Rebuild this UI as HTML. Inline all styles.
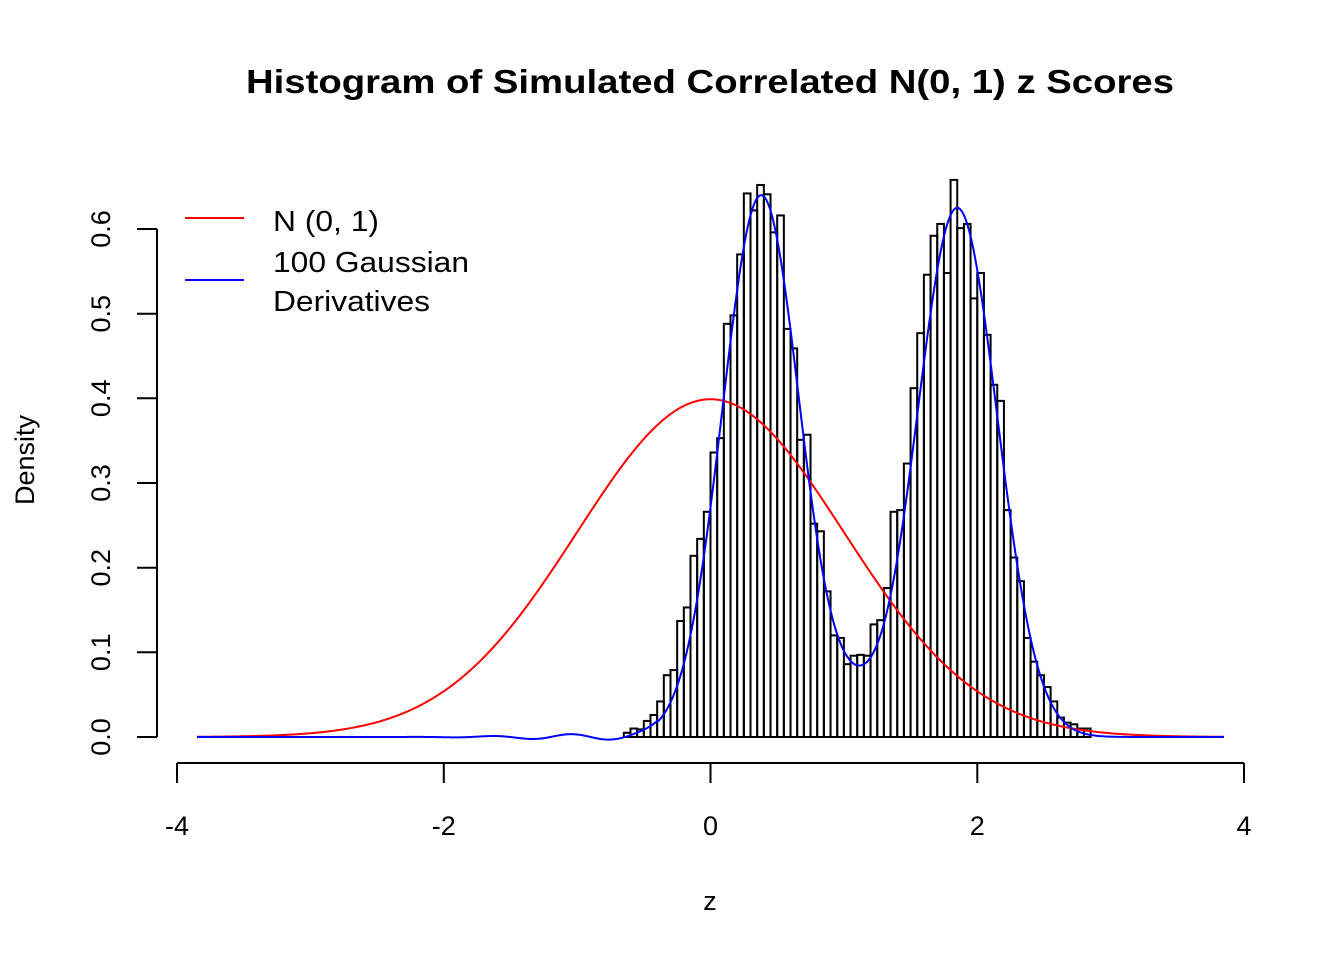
<!DOCTYPE html>
<html><head><meta charset="utf-8"><style>
html,body{margin:0;padding:0;background:#fff;}
svg{display:block;font-family:"Liberation Sans",Arial,sans-serif;}
</style></head><body>
<svg id="s" width="1344" height="960" viewBox="0 0 1344 960" xmlns="http://www.w3.org/2000/svg">
<rect width="1344" height="960" fill="#fff"/>
<text x="710" y="93" text-anchor="middle" font-size="33" font-weight="bold" textLength="928" lengthAdjust="spacingAndGlyphs">Histogram of Simulated Correlated N(0, 1) z Scores</text>
<g stroke="#000" stroke-width="2" fill="none">
<line x1="177" y1="763" x2="1244" y2="763"/>
<line x1="177" y1="763" x2="177" y2="783"/>
<line x1="443.8" y1="763" x2="443.8" y2="783"/>
<line x1="710.5" y1="763" x2="710.5" y2="783"/>
<line x1="977.3" y1="763" x2="977.3" y2="783"/>
<line x1="1244" y1="763" x2="1244" y2="783"/>
<line x1="157" y1="229" x2="157" y2="737"/>
<line x1="137" y1="737" x2="157" y2="737"/>
<line x1="137" y1="652.3" x2="157" y2="652.3"/>
<line x1="137" y1="567.7" x2="157" y2="567.7"/>
<line x1="137" y1="483" x2="157" y2="483"/>
<line x1="137" y1="398.3" x2="157" y2="398.3"/>
<line x1="137" y1="313.7" x2="157" y2="313.7"/>
<line x1="137" y1="229" x2="157" y2="229"/>
</g>
<g font-size="27" text-anchor="middle">
<text x="177" y="835">-4</text>
<text x="443.8" y="835">-2</text>
<text x="710.5" y="835">0</text>
<text x="977.3" y="835">2</text>
<text x="1244" y="835">4</text>
<text x="710" y="910">z</text>
<text transform="translate(110,737) rotate(-90)">0.0</text>
<text transform="translate(110,652.3) rotate(-90)">0.1</text>
<text transform="translate(110,567.7) rotate(-90)">0.2</text>
<text transform="translate(110,483) rotate(-90)">0.3</text>
<text transform="translate(110,398.3) rotate(-90)">0.4</text>
<text transform="translate(110,313.7) rotate(-90)">0.5</text>
<text transform="translate(110,229) rotate(-90)">0.6</text>
<text transform="translate(34,460) rotate(-90)">Density</text>
</g>
<g id="bars" stroke="#000" stroke-width="2" fill="none"></g>
<path id="red" stroke="#ff0000" stroke-width="2" fill="none"/>
<path id="blue" stroke="#0000ff" stroke-width="2" fill="none"/>
<line x1="185" y1="218" x2="244" y2="218" stroke="#ff0000" stroke-width="2"/>
<line x1="185" y1="280" x2="244" y2="280" stroke="#0000ff" stroke-width="2"/>
<g font-size="29">
<text x="273" y="231" textLength="106" lengthAdjust="spacingAndGlyphs">N (0, 1)</text>
<text x="273" y="272" textLength="196" lengthAdjust="spacingAndGlyphs">100 Gaussian</text>
<text x="273" y="311" textLength="157" lengthAdjust="spacingAndGlyphs">Derivatives</text>
</g>
</svg>
<script>
var X=function(x){return 710.5+x*133.375};
var Y=function(d){return 737-d*846.67};
var h=[0.005,0.01,0.009,0.019,0.026,0.042,0.073,0.079,0.137,0.153,0.214,0.234,0.266,0.336,0.353,0.488,0.498,0.570,0.642,0.622,0.652,0.641,0.596,0.616,0.482,0.459,0.351,0.357,0.252,0.243,0.172,0.120,0.117,0.086,0.096,
0.097,0.096,0.133,0.138,0.176,0.266,0.268,0.323,0.412,0.477,0.546,0.592,0.606,0.548,0.658,0.601,0.606,0.518,0.548,0.475,0.416,0.397,0.268,0.212,0.184,0.117,0.089,0.073,0.059,0.042,0.023,0.017,0.015,0.010,0.010];
var g=document.getElementById('bars'),s='';
for(var i=0;i<h.length;i++){var x0=X(-0.65+i*0.05),x1=X(-0.6+i*0.05);
s+='<rect x="'+x0.toFixed(2)+'" y="'+Y(h[i]).toFixed(2)+'" width="'+(x1-x0).toFixed(2)+'" height="'+(737-Y(h[i])).toFixed(2)+'"/>';}
g.innerHTML=s;
var r='',b='';
for(var x=-3.85;x<=3.851;x+=0.01){
var n=Math.exp(-x*x/2)/Math.sqrt(2*Math.PI);
r+=(r?'L':'M')+X(x).toFixed(2)+','+Y(n).toFixed(2);
var d=0.64*Math.exp(-Math.pow(x-0.38,2)/(2*0.29*0.29))+0.625*Math.exp(-Math.pow(x-1.85,2)/(2*0.30*0.30))+0.028*Math.exp(-Math.pow(x-1.08,2)/(2*0.18*0.18));
if(x<-0.4&&x>-3.2){d+=0.0035*Math.sin((x+1.2)*Math.PI/0.3)*Math.exp(-Math.pow(x+0.9,2)/0.5);}
b+=(b?'L':'M')+X(x).toFixed(2)+','+Y(d).toFixed(2);}
document.getElementById('red').setAttribute('d',r);
document.getElementById('blue').setAttribute('d',b);
</script>
</body></html>
